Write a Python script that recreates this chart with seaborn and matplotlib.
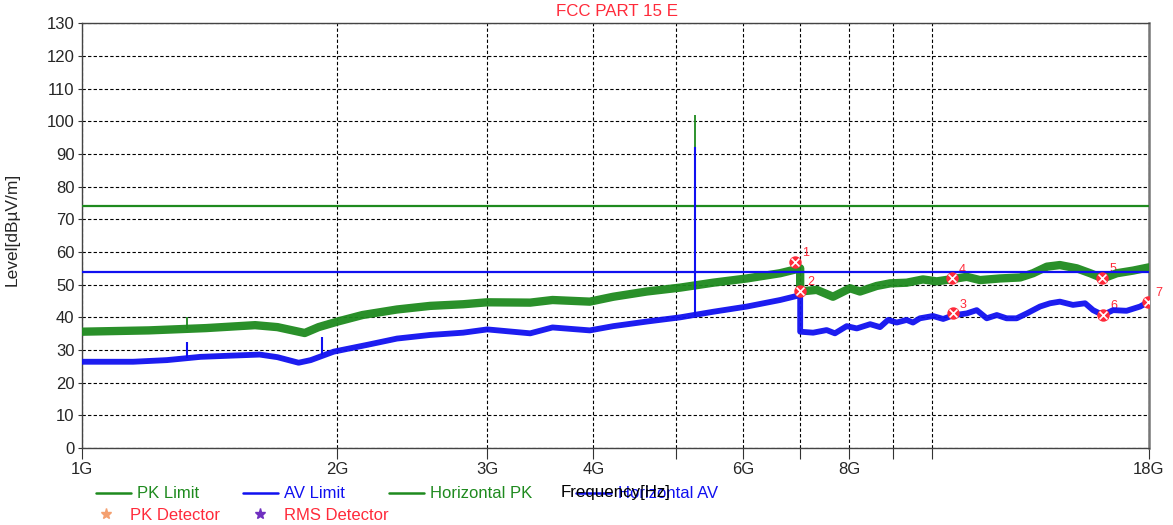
import numpy as np
import pandas as pd
import matplotlib
matplotlib.use("Agg")
import matplotlib.pyplot as plt
import matplotlib.ticker as mticker
from matplotlib.lines import Line2D
import seaborn as sns

sns.set_theme(style="white")
plt.rcParams['font.family'] = ['Liberation Sans', 'DejaVu Sans']

# limits (dBuV/m)
pk_limit = 74
av_limit = 54

# Horizontal PK trace (GHz, dBuV/m)
pk_freq = [1.0, 1.2, 1.4, 1.6, 1.7, 1.8, 1.83, 1.9, 2.0, 2.14, 2.35, 2.57, 2.81, 3.0,
           3.37, 3.58, 3.96, 4.22, 4.62, 5.06, 5.53, 6.06, 6.63, 7.0,
           7.0, 7.32, 7.65, 8.01, 8.23, 8.61, 8.93, 9.34, 9.76, 10.13, 10.5, 10.99,
           11.39, 12.03, 12.7, 13.15, 13.65, 14.14, 14.8, 15.35, 15.89, 16.5, 17.24, 18.0]
pk_level = [35.6, 36.0, 36.7, 37.6, 37.0, 35.6, 35.2, 37.0, 38.7, 40.7, 42.4, 43.5, 44.0, 44.6,
            44.5, 45.3, 44.8, 46.3, 47.9, 49.1, 50.6, 51.9, 53.5, 55.0,
            47.9, 48.4, 46.3, 48.9, 47.9, 49.6, 50.4, 50.6, 51.6, 51.0, 51.6, 52.4,
            51.4, 51.9, 52.2, 53.5, 55.5, 56.0, 55.0, 53.5, 51.9, 53.5, 54.3, 55.3]

# Horizontal AV trace
av_freq = [1.0, 1.15, 1.26, 1.38, 1.51, 1.62, 1.7, 1.8, 1.86, 1.98, 2.17, 2.35, 2.57, 2.81,
           3.0, 3.37, 3.58, 3.96, 4.22, 4.62, 5.06, 5.53, 6.06, 6.63, 7.0,
           7.0, 7.25, 7.52, 7.69, 7.94, 8.16, 8.46, 8.69, 8.88, 9.09, 9.34, 9.5, 9.68,
           10.03, 10.31, 10.59, 10.99, 11.29, 11.6, 11.92, 12.24, 12.58, 12.93, 13.4,
           13.77, 14.14, 14.65, 15.14, 15.47, 15.89, 16.33, 16.94, 17.57, 18.0]
av_level = [26.4, 26.4, 26.9, 27.9, 28.3, 28.6, 27.8, 26.1, 26.9, 29.5, 31.6, 33.5, 34.6, 35.3,
            36.3, 35.1, 36.9, 36.0, 37.3, 38.7, 40.0, 41.7, 43.3, 45.3, 46.8,
            35.6, 35.3, 36.1, 35.1, 37.3, 36.6, 37.9, 37.0, 39.2, 38.4, 39.2, 38.4, 39.7,
            40.4, 39.5, 40.6, 41.2, 42.2, 39.7, 40.7, 39.7, 39.7, 41.2, 43.3,
            44.3, 44.8, 43.8, 44.3, 42.2, 40.7, 42.2, 42.0, 43.3, 44.8]

# narrow spikes (freq, base, peak)
pk_spike_freq = [1.33, 5.26]
pk_spike_base = [36.5, 49.5]
pk_spike_peak = [40.0, 102.0]
av_spike_freq = [1.33, 1.92, 5.26]
av_spike_base = [27.5, 28.5, 40.5]
av_spike_peak = [32.5, 34.0, 92.0]

# detector markers
mk_no = ["1", "2", "3", "4", "5", "6", "7"]
mk_freq = [6.9, 7.0, 10.59, 10.56, 15.87, 15.89, 17.95]
mk_level = [57.0, 48.2, 41.2, 51.9, 52.1, 40.7, 44.8]

GREEN = "#1e8a1e"
BLUE = "#1010f0"
RED = "#ff2a3a"

pk_df = pd.DataFrame({"freq": pk_freq, "level": pk_level})
av_df = pd.DataFrame({"freq": av_freq, "level": av_level})

fig = plt.figure(figsize=(11.73, 5.25), dpi=100)
ax = fig.add_axes([81.5 / 1173, 1 - 448 / 525, (1149 - 81.5) / 1173, (448 - 23.3) / 525])

ax.axhline(pk_limit, color=GREEN, lw=1.6, zorder=3)
sns.lineplot(data=pk_df, x="freq", y="level", ax=ax, color=GREEN, lw=6.0, alpha=0.95,
             estimator=None, sort=False, zorder=4)
ax.vlines(pk_spike_freq, pk_spike_base, pk_spike_peak, color=GREEN, lw=1.3, zorder=4)
sns.lineplot(data=av_df, x="freq", y="level", ax=ax, color=BLUE, lw=4.2, alpha=0.95,
             estimator=None, sort=False, zorder=5)
ax.vlines(av_spike_freq, av_spike_base, av_spike_peak, color=BLUE, lw=1.5, zorder=5)
ax.axhline(av_limit, color=BLUE, lw=1.6, zorder=6)

ax.scatter(mk_freq, mk_level, s=80, color=RED, marker="o", zorder=7, linewidths=0)
ax.scatter(mk_freq, mk_level, s=32, color="white", marker="x", zorder=8, linewidths=1.2)
for n, f, v in zip(mk_no, mk_freq, mk_level):
    ax.annotate(n, (f, v), xytext=(5, 4), textcoords="offset points", color=RED, fontsize=9)

ax.set_xscale("log")
ax.set_xlim(1, 18)
ax.set_ylim(0, 130)
ax.set_yticks(range(0, 131, 10))
ax.xaxis.set_major_locator(mticker.FixedLocator([1, 2, 3, 4, 5, 6, 7, 8, 9, 10, 18]))
ax.xaxis.set_minor_locator(mticker.NullLocator())
ax.set_xticklabels(["1G", "2G", "3G", "4G", "", "6G", "", "8G", "", "", "18G"])
ax.tick_params(axis="x", direction="out", length=8, width=0.8, color="#333333",
               labelsize=12, pad=2, bottom=True)
ax.tick_params(axis="y", direction="out", length=3, width=0.8, color="#333333",
               labelsize=12, pad=2, left=True)
ax.grid(True, which="major", color="black", linestyle=(0, (3, 2)), lw=0.8)
for s in ax.spines.values():
    s.set_color("#444444")
    s.set_linewidth(1.0)
ax.spines["right"].set_linewidth(1.8)
ax.spines["right"].set_color("#777777")

ax.set_xlabel("")
ax.set_ylabel("Level[dBµV/m]", fontsize=12.5, labelpad=4)
ax.yaxis.set_label_coords(-0.058, 0.515)
fig.text(616 / 1173, 1 - 493 / 525, "Frequency[Hz]", ha="center", va="center",
         fontsize=12.2, color="black", zorder=10)
fig.text(617 / 1173, 1 - 12 / 525, "FCC PART 15 E", ha="center", va="center",
         fontsize=12.2, color=RED)

# legend, two rows laid out like the reference
row1_handles = [Line2D([], [], color=GREEN, lw=1.8), Line2D([], [], color=BLUE, lw=1.8),
                Line2D([], [], color=GREEN, lw=1.8), Line2D([], [], color=BLUE, lw=1.8)]
row1_labels = ["PK Limit", "AV Limit", "Horizontal PK", "Horizontal AV"]
row1_colors = [GREEN, BLUE, GREEN, BLUE]
row2_handles = [Line2D([], [], color="#f4a070", marker="*", lw=0, markersize=8),
                Line2D([], [], color="#7030c0", marker="*", lw=0, markersize=8)]
row2_labels = ["PK Detector", "RMS Detector"]
row2_colors = [RED, RED]

leg1 = fig.legend(row1_handles, row1_labels, ncol=4, loc="center left",
                  bbox_to_anchor=(84 / 1173, 1 - 494 / 525), frameon=False,
                  fontsize=12, handlelength=2.1, handletextpad=0.4,
                  columnspacing=2.6, borderpad=0.2)
for t, c in zip(leg1.get_texts(), row1_colors):
    t.set_color(c)
leg2 = fig.legend(row2_handles, row2_labels, ncol=2, loc="center left",
                  bbox_to_anchor=(77 / 1173, 1 - 515 / 525), frameon=False,
                  fontsize=12, handlelength=2.1, handletextpad=0.4,
                  columnspacing=1.3, borderpad=0.2)
for t, c in zip(leg2.get_texts(), row2_colors):
    t.set_color(c)

fig.savefig("out.png", dpi=100)
